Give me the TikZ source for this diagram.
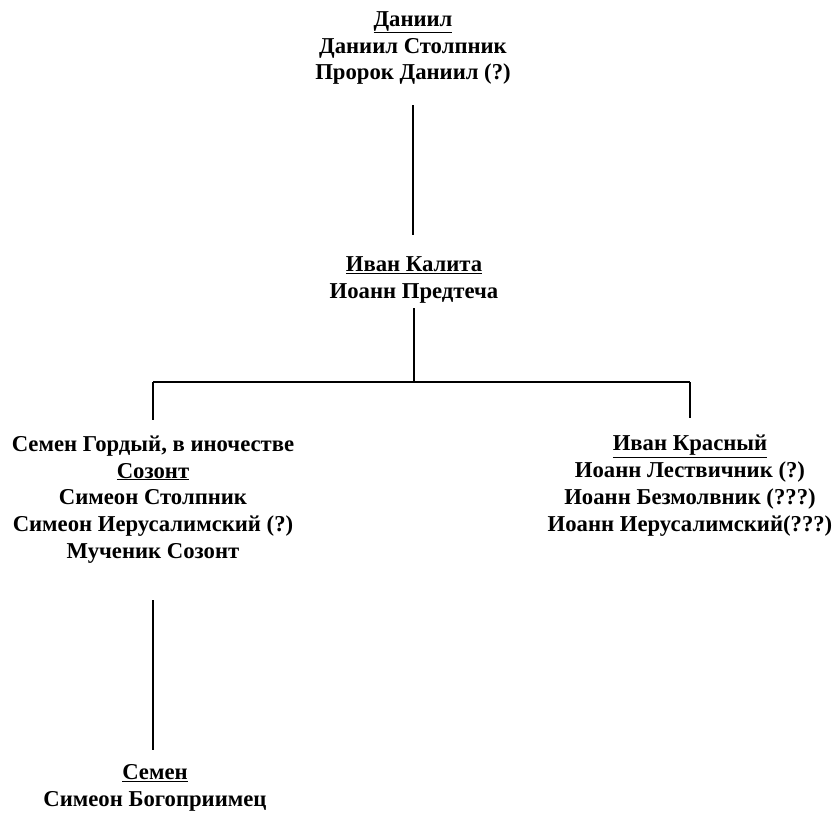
\documentclass[tikz,border=0pt]{standalone}
\usepackage{fontspec}
\setmainfont{Liberation Serif}
\tikzset{
  person/.style={inner sep=0pt, align=center, font=\fontsize{22.7}{26.8}\selectfont\bfseries},
  conn/.style={line width=1.7pt, line cap=butt},
}
\begin{document}
\begin{tikzpicture}[x=1pt,y=-1pt]
\useasboundingbox[fill=white] (0,0) rectangle (837,815);
\node[person] (daniil) at (413,48) {\underline{Даниил}\\Даниил Столпник\\Пророк Даниил (?)};
\node[person] (kalita) at (414,280) {\underline{Иван Калита}\\Иоанн Предтеча};
\node[person] (semeng) at (153,499.5) {Семен Гордый, в иночестве\\\underline{Созонт}\\Симеон Столпник\\Симеон Иерусалимский (?)\\Мученик Созонт};
\node[person] (ivank) at (690,485.5) {\underline{Иван Красный}\\Иоанн Лествичник (?)\\Иоанн Безмолвник (???)\\Иоанн Иерусалимский(???)};
\node[person] (semen) at (155,788) {\underline{Семен}\\Симеон Богоприимец};
\coordinate (fork) at (414,382);
\draw[conn] (daniil.south |- 0,105) -- (daniil.south |- 0,235);
\draw[conn] (kalita.south |- 0,308) -- (fork);
\draw[conn] (semeng.north |- fork) -- (ivank.north |- fork);
\draw[conn] (semeng.north |- fork) -- (semeng.north |- 0,420);
\draw[conn] (ivank.north |- fork) -- (ivank.north |- 0,418);
\draw[conn] (semeng.south |- 0,600) -- (semeng.south |- 0,750);
\end{tikzpicture}
\end{document}
